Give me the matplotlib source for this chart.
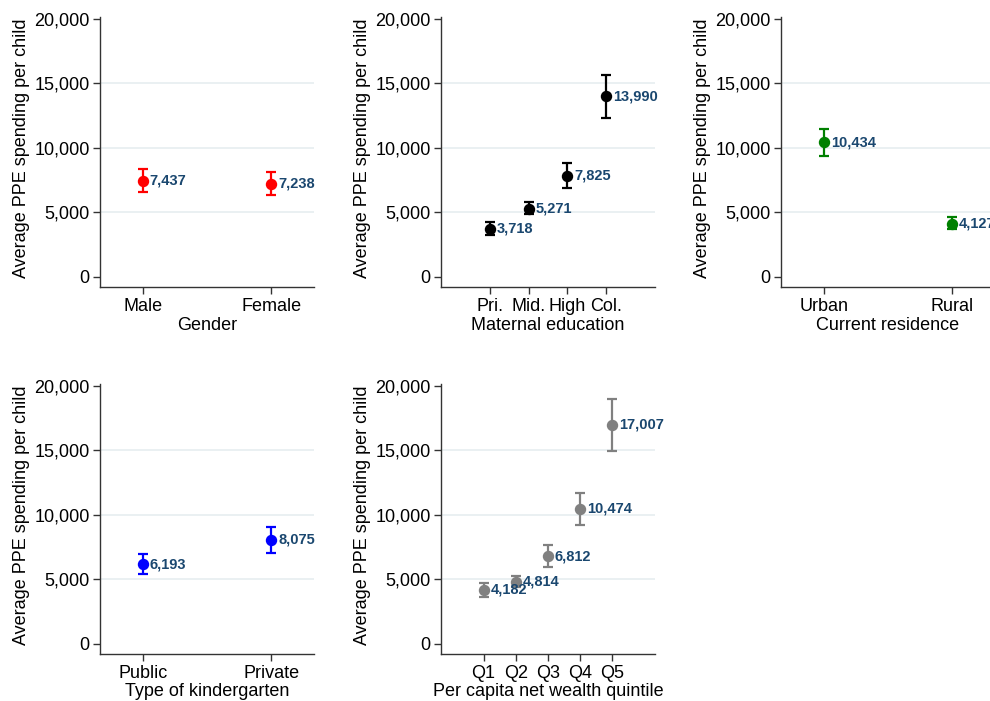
import matplotlib
matplotlib.use("Agg")
import matplotlib.pyplot as plt
from matplotlib.ticker import FuncFormatter

plt.rcParams['font.family'] = ['Liberation Sans', 'DejaVu Sans']

# ---- data ----
gender_cats = ["Male", "Female"]
gender_mean = [7437, 7238]
gender_lo = [6610, 6380]
gender_hi = [8340, 8160]

edu_cats = ["Pri.", "Mid.", "High", "Col."]
edu_mean = [3718, 5271, 7825, 13990]
edu_lo = [3256, 4858, 6876, 12349]
edu_hi = [4287, 5837, 8860, 15659]

res_cats = ["Urban", "Rural"]
res_mean = [10434, 4127]
res_lo = [9403, 3720]
res_hi = [11496, 4625]

kg_cats = ["Public", "Private"]
kg_mean = [6193, 8075]
kg_lo = [5426, 7078]
kg_hi = [6953, 9093]

wealth_cats = ["Q1", "Q2", "Q3", "Q4", "Q5"]
wealth_mean = [4182, 4814, 6812, 10474, 17007]
wealth_lo = [3667, 4442, 5995, 9225, 14961]
wealth_hi = [4752, 5295, 7674, 11729, 18992]

y_ticks = [0, 5000, 10000, 15000, 20000]
grid_levels = [5000, 10000, 15000]
y_label = "Average PPE spending per child"

panels = [
    (gender_cats, gender_mean, gender_lo, gender_hi, "red", "Gender"),
    (edu_cats, edu_mean, edu_lo, edu_hi, "black", "Maternal education"),
    (res_cats, res_mean, res_lo, res_hi, "green", "Current residence"),
    (kg_cats, kg_mean, kg_lo, kg_hi, "blue", "Type of kindergarten"),
    (wealth_cats, wealth_mean, wealth_lo, wealth_hi, "gray", "Per capita net wealth quintile"),
]

# ---- layout ----
W, H = 990, 701
fig = plt.figure(figsize=(W / 100, H / 100), dpi=100)
fig.patch.set_facecolor("white")

col_left = [100, 441, 781]
ax_w = 214
row_top = [17, 384]
ax_h = 270

label_color = "#1a476f"
margins = {2: 0.333, 4: 1.27, 5: 1.32}
fs = 13

for i, (cats, mean, lo, hi, color, xlabel) in enumerate(panels):
    r, c = divmod(i, 3)
    left = col_left[c] / W
    bottom = 1 - (row_top[r] + ax_h) / H
    ax = fig.add_axes([left, bottom, ax_w / W, ax_h / H])
    n = len(cats)
    x = list(range(1, n + 1))
    err_lo = [m - l for m, l in zip(mean, lo)]
    err_hi = [h - m for m, h in zip(mean, hi)]
    for g in grid_levels:
        ax.axhline(g, color="#e6eef0", lw=1.2, zorder=0)
    ax.errorbar(x, mean, yerr=[err_lo, err_hi], fmt="o", color=color,
                ms=7.2, elinewidth=1.6, capsize=3.6, capthick=1.6, zorder=3)
    for xi, m in zip(x, mean):
        ax.annotate(f"{m:,}", (xi, m), xytext=(5.0, 0), textcoords="offset points",
                    ha="left", va="center", fontsize=10.5, fontweight="bold",
                    color=label_color, annotation_clip=False, zorder=4)
    mg = margins[n]
    ax.set_xlim(1 - mg, n + mg)
    ax.set_ylim(-780, 20150)
    ax.set_xticks(x)
    ax.set_xticklabels(cats, fontsize=fs)
    ax.set_yticks(y_ticks)
    ax.yaxis.set_major_formatter(FuncFormatter(lambda v, p: f"{int(v):,}"))
    ax.tick_params(axis="y", labelsize=fs, length=5, width=1, color="#333333", pad=2.5)
    ax.tick_params(axis="x", labelsize=fs, length=5, width=1, color="#333333", pad=3)
    ax.set_xlabel(xlabel, fontsize=fs, labelpad=1)
    ax.set_ylabel(y_label, fontsize=fs, labelpad=3)
    ax.yaxis.label.set_y(0.515)
    for s in ["top", "right"]:
        ax.spines[s].set_visible(False)
    for s in ["left", "bottom"]:
        ax.spines[s].set_color("#333333")
        ax.spines[s].set_linewidth(1)
    ax.set_facecolor("white")

fig.savefig("out.png", dpi=100, facecolor="white")
